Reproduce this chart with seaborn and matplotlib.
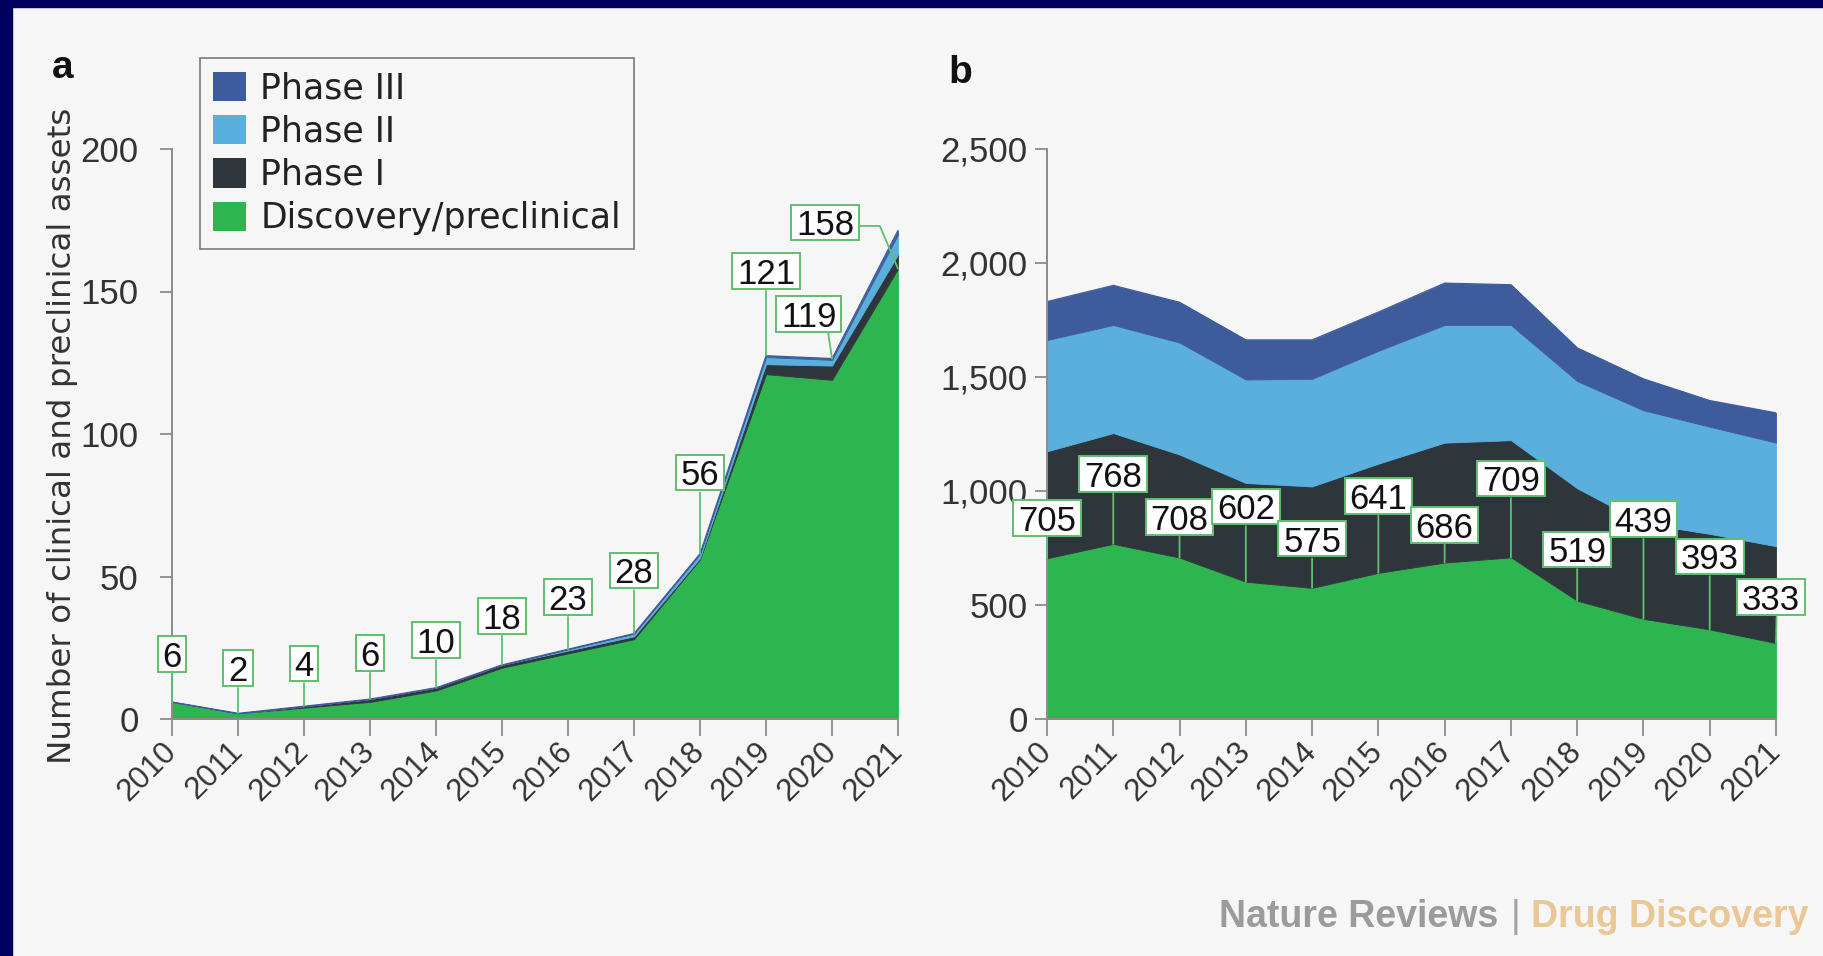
import matplotlib
matplotlib.use("Agg")
import matplotlib.pyplot as plt
from matplotlib.patches import Patch, Rectangle
from matplotlib.path import Path
from matplotlib.ticker import StrMethodFormatter, MultipleLocator
import pandas as pd
import seaborn as sns

# ---------------------------------------------------------------- data
years = list(range(2010, 2022))
year_labels = [str(y) for y in years]
series_names = ["Phase III", "Phase II", "Phase I", "Discovery/preclinical"]

# panel a: number of clinical and preclinical assets
a_discovery = [6, 2, 4, 6, 10, 18, 23, 28, 56, 121, 119, 158]
a_phase1 = [0, 0, 0.5, 1, 1, 1, 1, 1, 0.5, 3.5, 5, 5]
a_phase2 = [0, 0, 0, 0, 0, 0, 0.5, 1, 1.5, 2.5, 2, 7]
a_phase3 = [0, 0, 0, 0, 0, 0, 0, 0, 0, 0.5, 0.5, 1.5]

# panel b
b_discovery = [705, 768, 708, 602, 575, 641, 686, 709, 519, 439, 393, 333]
b_phase1 = [469, 486, 452, 433, 445, 479, 526, 514, 493, 419, 419, 425]
b_phase2 = [488, 474, 491, 454, 472, 495, 516, 505, 470, 496, 470, 454]
b_phase3 = [169, 174, 177, 174, 171, 170, 184, 177, 146, 138, 115, 131]

# ---------------------------------------------------------------- style
BG = "#f6f6f6"
NAVY = "#00005e"
C_DISC = "#2db550"
C_P1 = "#2e363c"
C_P2 = "#5aafdc"
C_P3 = "#3e5c9c"
BOX_GREEN = "#5fbf70"
SPINE = "#8c8c8c"
TXT = "#333333"
NUM_FONT = ["Liberation Sans", "DejaVu Sans"]

sns.set_theme(style="ticks")
plt.rcParams["font.family"] = ["Liberation Sans", "DejaVu Sans"]
plt.rcParams["axes.facecolor"] = BG
plt.rcParams["figure.facecolor"] = BG

W, H = 1824, 956
fig = plt.figure(figsize=(W / 100, H / 100), dpi=100, facecolor=BG)

# frame bands
fig.add_artist(Rectangle((0, 0), 12 / W, 1, transform=fig.transFigure,
                         color=NAVY, zorder=10))
fig.add_artist(Rectangle((0, 1 - 7 / H), 1, 7 / H, transform=fig.transFigure,
                         color=NAVY, zorder=10))

ax_a = fig.add_axes([172 / W, 1 - 719 / H, 726 / W, 570 / H])
ax_b = fig.add_axes([1047 / W, 1 - 719 / H, 729 / W, 570 / H])


def digit_box(x0, y0, width, height, mutation_size):
    """Square box hugging the digits (baseline to cap height)."""
    em = mutation_size
    padx = 0.14 * em
    base = y0 + 0.21 * em
    bot = base - 0.15 * em
    top = base + 0.72 * em + 0.15 * em
    left, right = x0 - padx, x0 + width + padx
    return Path([(left, bot), (right, bot), (right, top), (left, top), (left, bot)],
                closed=True)


def draw_stack(ax, disc, p1, p2, p3, ypad):
    ax.stackplot(years, disc, p1, p2, p3,
                 colors=[C_DISC, C_P1, C_P2, C_P3],
                 edgecolor="face", linewidth=0.6, zorder=1)
    df = pd.DataFrame({"year": years,
                       "total": [d + a + b + c for d, a, b, c in zip(disc, p1, p2, p3)]})
    sns.lineplot(data=df, x="year", y="total", ax=ax, color=C_P3,
                 linewidth=0.8, zorder=1.5)
    ax.set_xlim(2010, 2021)
    ax.set_xlabel("")
    ax.set_ylabel("")
    ax.set_facecolor("none")
    sns.despine(ax=ax)
    for s in ("left", "bottom"):
        ax.spines[s].set_color(SPINE)
        ax.spines[s].set_linewidth(1.4)
    ax.set_xticks(years)
    ax.set_xticklabels(year_labels, rotation=45, ha="right", va="center",
                       rotation_mode="anchor")
    ax.tick_params(axis="x", length=12, width=1.3, color=SPINE, pad=8,
                   labelsize=22.5, labelcolor=TXT)
    ax.tick_params(axis="y", length=9, width=1.3, color=SPINE, pad=ypad,
                   labelsize=25, labelcolor=TXT)


def tag(ax, text, xt, yt, xp, yp, relx=0.5, rely=0.0, conn="arc3"):
    ax.annotate(text, xy=(xp, yp), xytext=(xt, yt), textcoords="data",
                ha="center", va="center", fontsize=25, color="#111111",
                family=NUM_FONT,
                bbox=dict(boxstyle=digit_box, fc="white",
                          ec=BOX_GREEN, lw=1.4),
                arrowprops=dict(arrowstyle="-", color=BOX_GREEN, lw=1.3,
                                shrinkA=0, shrinkB=0, relpos=(relx, rely),
                                connectionstyle=conn),
                zorder=5, annotation_clip=False)


# ---------------------------------------------------------------- panel a
draw_stack(ax_a, a_discovery, a_phase1, a_phase2, a_phase3, ypad=15)
ax_a.set_ylim(0, 200)
ax_a.yaxis.set_major_locator(MultipleLocator(50))

a_totals = [d + a + b + c for d, a, b, c in zip(a_discovery, a_phase1, a_phase2, a_phase3)]
a_tag_x = [2010, 2011, 2012, 2013, 2014, 2015, 2016, 2017, 2018, 2019, 2019.65, 2019.9]
a_tag_y = [21.6, 16.7, 18.4, 22, 26.5, 35, 41.6, 51, 85.3, 156, 141, 173]
for i, (yr, val) in enumerate(zip(years, a_discovery)):
    if i == 10:
        tag(ax_a, str(val), a_tag_x[i], a_tag_y[i], yr, a_totals[i], relx=0.85)
    elif i == 11:
        tag(ax_a, str(val), a_tag_x[i], a_tag_y[i], yr, val, relx=1.0, rely=0.5,
            conn="angle,angleA=0,angleB=113,rad=0")
    else:
        tag(ax_a, str(val), a_tag_x[i], a_tag_y[i], yr, a_totals[i])

handles = [Patch(facecolor=c, edgecolor="none") for c in (C_P3, C_P2, C_P1, C_DISC)]
leg = fig.legend(handles, series_names, loc="upper left",
                 bbox_to_anchor=(200 / W, 1 - 58 / H),
                 bbox_transform=fig.transFigure,
                 prop={"family": "DejaVu Sans", "size": 25},
                 handlelength=0.94, handleheight=0.92, handletextpad=0.42,
                 labelspacing=0.27, borderpad=0.38, borderaxespad=0,
                 frameon=True, fancybox=False, framealpha=1)
leg.get_frame().set_edgecolor("#7a7a7a")
leg.get_frame().set_linewidth(1.2)
leg.get_frame().set_facecolor(BG)
for t in leg.get_texts():
    t.set_color("#222222")

fig.text(63 / W, 1 - 436 / H, "Number of clinical and preclinical assets",
         rotation=90, ha="center", va="center", fontsize=23.4,
         family="DejaVu Sans", color=TXT)

# ---------------------------------------------------------------- panel b
draw_stack(ax_b, b_discovery, b_phase1, b_phase2, b_phase3, ypad=5)
ax_b.set_ylim(0, 2500)
ax_b.yaxis.set_major_locator(MultipleLocator(500))
ax_b.yaxis.set_major_formatter(StrMethodFormatter("{x:,.0f}"))

b_tag_x = [2010, 2011, 2012, 2013, 2014, 2015, 2016, 2017, 2018, 2019, 2020, 2020.92]
b_tag_y = [867, 1061, 872, 918, 776, 964, 837, 1041, 730, 862, 699, 520]
for i, (yr, val) in enumerate(zip(years, b_discovery)):
    relx = 0.5 + (yr - b_tag_x[i]) / 0.8
    tag(ax_b, str(val), b_tag_x[i], b_tag_y[i], yr, val, relx=relx)

# ---------------------------------------------------------------- panel letters & footer
fig.text(52 / W, 1 - 78 / H, "a", fontsize=28, fontweight="bold",
         va="baseline", ha="left", color="#111111")
fig.text(948 / W, 1 - 83 / H, "b", fontsize=28, fontweight="bold",
         va="baseline", ha="left", color="#111111")

fy = 1 - 927 / H
fig.text(1219 / W, fy, "Nature Reviews", fontsize=27, fontweight="bold",
         color="#9b9b9b", ha="left", va="baseline")
fig.text(1516 / W, fy, "|", fontsize=27, color="#a0a0a0", ha="center",
         va="baseline")
fig.text(1809 / W, fy, "Drug Discovery", fontsize=27, fontweight="bold",
         color="#ebc795", ha="right", va="baseline")

fig.savefig("out.png", dpi=100, facecolor=BG)
